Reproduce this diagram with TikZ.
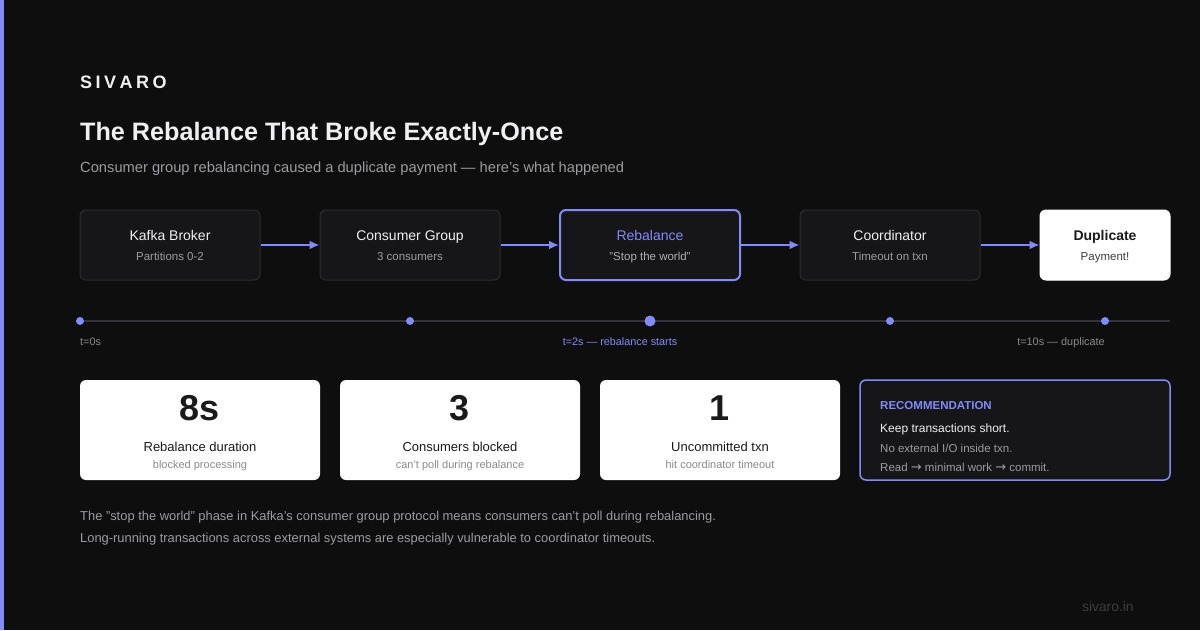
\documentclass[tikz,border=0pt]{standalone}
\usepackage{fontspec}
\setmainfont{Liberation Sans}
\newfontfamily\arrowfont{DejaVu Sans}
\usepackage{tikz}
\usetikzlibrary{arrows.meta}
\usepackage{color}

\definecolor{bg}{HTML}{0E0E0E}
\definecolor{accent}{HTML}{818CF8}
\definecolor{boxfill}{HTML}{161618}
\definecolor{boxline}{HTML}{2C2C30}
\definecolor{lighttext}{HTML}{F0F0F2}
\definecolor{graytext}{HTML}{9B9BA3}
\definecolor{dimtext}{HTML}{8A8A90}
\definecolor{track}{HTML}{333338}
\definecolor{cardtext}{HTML}{1A1A1A}
\definecolor{cardsub}{HTML}{8A8A8A}
\definecolor{footmark}{HTML}{3D3D3D}

\newcommand{\thento}{{\arrowfont\fontsize{13}{14}\selectfont →}}

\begin{document}
\begin{tikzpicture}[x=1pt,y=-1pt,
   box/.style={draw=boxline,fill=boxfill,line width=1pt,rounded corners=6pt,minimum width=180pt,minimum height=70pt,inner sep=0pt},
   card/.style={fill=white,rounded corners=6pt,minimum width=240pt,minimum height=100pt,inner sep=0pt},
   txt/.style={inner sep=0pt,anchor=base},
   ltxt/.style={inner sep=0pt,anchor=base west},
   flow/.style={accent,-{Latex[length=10pt,width=9pt]},line width=2pt},
   dot/.style={circle,fill=accent,inner sep=0pt,minimum size=8pt}]
   % background and accent bar
   \fill[bg] (0,0) rectangle (1200,630);
   \fill[accent] (0,0) rectangle (4,630);
   % header
   \node[ltxt,text=lighttext,font=\fontsize{18}{20}\selectfont\bfseries] (brand) at (80,88) {S\kern3.5pt I\kern3.5pt V\kern3.5pt A\kern3.5pt R\kern3.5pt O};
   \node[ltxt,text=lighttext,font=\fontsize{25.2}{28}\selectfont\bfseries] (title) at (80,140) {The Rebalance That Broke Exactly-Once};
   \node[ltxt,text=graytext,font=\fontsize{14.7}{17}\selectfont] (subtitle) at (80,172) {Consumer group rebalancing caused a duplicate payment — here's what happened};
   % flow boxes
   \node[box] (kafka) at (170,245) {};
   \node[box] (group) at (410,245) {};
   \node[box,draw=accent,line width=2pt] (rebal) at (650,245) {};
   \node[box] (coord) at (890,245) {};
   \node[box,fill=white,draw=white,minimum width=130pt] (dup) at (1105,245) {};
   \node[txt,text=lighttext,font=\fontsize{14}{16}\selectfont] (kafkaname) at (170,240) {Kafka Broker};
   \node[txt,text=graytext,font=\fontsize{11.5}{13}\selectfont] (kafkasub) at (170,260) {Partitions 0-2};
   \node[txt,text=lighttext,font=\fontsize{14}{16}\selectfont] (groupname) at (410,240) {Consumer Group};
   \node[txt,text=graytext,font=\fontsize{11.5}{13}\selectfont] (groupsub) at (410,260) {3 consumers};
   \node[txt,text=accent,font=\fontsize{14}{16}\selectfont] (rebalname) at (650,240) {Rebalance};
   \node[txt,text=graytext!80!white,font=\fontsize{11.5}{13}\selectfont] (rebalsub) at (650,260) {"Stop the world"};
   \node[txt,text=lighttext,font=\fontsize{14}{16}\selectfont] (coordname) at (890,240) {Coordinator};
   \node[txt,text=graytext,font=\fontsize{11.5}{13}\selectfont] (coordsub) at (890,260) {Timeout on txn};
   \node[txt,text=cardtext,font=\fontsize{14}{16}\selectfont\bfseries] (dupname) at (1105,240) {Duplicate};
   \node[txt,text=cardtext!85!white,font=\fontsize{11.5}{13}\selectfont] (dupsub) at (1105,260) {Payment!};
   \draw[flow] (kafka) -- (group);
   \draw[flow] (group) -- (rebal);
   \draw[flow] (rebal) -- (coord);
   \draw[flow] (coord) -- (dup);
   % timeline
   \coordinate (trackstart) at (80,321);
   \coordinate (trackend) at (1170,321);
   \draw[track,line width=2pt] (trackstart) -- (trackend);
   \node[dot] (t0) at (80,321) {};
   \node[dot] (t1) at (410,321) {};
   \node[dot,minimum size=11pt] (t2) at (650,321) {};
   \node[dot] (t3) at (890,321) {};
   \node[dot] (t4) at (1105,321) {};
   \node[ltxt,text=dimtext,font=\fontsize{10.8}{12}\selectfont] (t0label) at (80,345) {t=0s};
   \node[txt,text=accent,font=\fontsize{10.8}{12}\selectfont] (t2label) at (620,345) {t=2s — rebalance starts};
   \node[txt,anchor=base east,text=dimtext,font=\fontsize{10.9}{12}\selectfont] (t4label) at (1105,345) {t=10s — duplicate};
   % stat cards
   \node[card] (durcard) at (200,430) {};
   \node[card] (blockcard) at (460,430) {};
   \node[card] (txncard) at (720,430) {};
   \node[txt,text=cardtext,font=\fontsize{36}{40}\selectfont\bfseries] (durnum) at (200,420) {8s};
   \node[txt,text=cardtext,font=\fontsize{13}{15}\selectfont] (durname) at (200,451) {Rebalance duration};
   \node[txt,text=cardsub,font=\fontsize{11}{13}\selectfont] (dursub) at (200,468) {blocked processing};
   \node[txt,text=cardtext,font=\fontsize{36}{40}\selectfont\bfseries] (blocknum) at (460,420) {3};
   \node[txt,text=cardtext,font=\fontsize{13}{15}\selectfont] (blockname) at (460,451) {Consumers blocked};
   \node[txt,text=cardsub,font=\fontsize{11}{13}\selectfont] (blocksub) at (460,468) {can't poll during rebalance};
   \node[txt,text=cardtext,font=\fontsize{36}{40}\selectfont\bfseries] (txnnum) at (720,420) {1};
   \node[txt,text=cardtext,font=\fontsize{13}{15}\selectfont] (txnname) at (720,451) {Uncommitted txn};
   \node[txt,text=cardsub,font=\fontsize{11}{13}\selectfont] (txnsub) at (720,468) {hit coordinator timeout};
   % recommendation
   \node[box,draw=accent,line width=1.5pt,minimum width=310pt,minimum height=100pt] (reccard) at (1015,430) {};
   \node[ltxt,text=accent,font=\fontsize{11.5}{13}\selectfont\bfseries] (rechead) at (880,409) {RECOMMENDATION};
   \node[ltxt,text=lighttext,font=\fontsize{12}{14}\selectfont] (recone) at (880,432) {Keep transactions short.};
   \node[ltxt,text=graytext,font=\fontsize{11.5}{13}\selectfont] (rectwo) at (880,452) {No external I/O inside txn.};
   \node[ltxt,text=graytext,font=\fontsize{11.5}{13}\selectfont] (recthree) at (880,471) {Read \thento{} minimal work \thento{} commit.};
   % footer
   \node[ltxt,text=graytext,font=\fontsize{12.9}{15}\selectfont] (noteone) at (80,520) {The "stop the world" phase in Kafka's consumer group protocol means consumers can't poll during rebalancing.};
   \node[ltxt,text=graytext,font=\fontsize{12.9}{15}\selectfont] (notetwo) at (80,542) {Long-running transactions across external systems are especially vulnerable to coordinator timeouts.};
   \node[ltxt,text=footmark,font=\fontsize{13.8}{15}\selectfont] (site) at (1082,611) {sivaro.in};
\end{tikzpicture}
\end{document}
